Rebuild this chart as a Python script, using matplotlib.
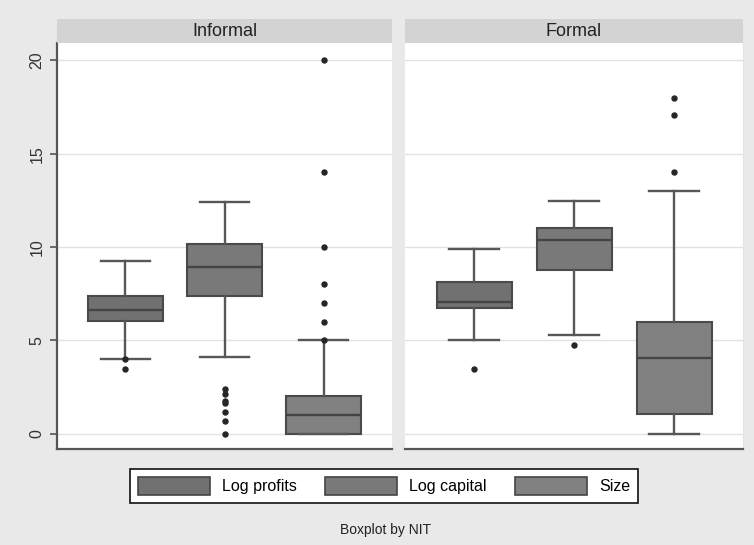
import matplotlib
matplotlib.use("Agg")
import matplotlib.pyplot as plt
from matplotlib.patches import Patch

plt.rcParams['font.family'] = ['Liberation Sans', 'DejaVu Sans']

panels = ["Informal", "Formal"]
series = ["Log profits", "Log capital", "Size"]
fills = ["#717171", "#797979", "#818181"]

# Box summaries per panel: lower whisker, Q1, median, Q3, upper whisker
informal_whislo = [4.0, 4.12, 0.0]
informal_q1 = [6.05, 7.37, 0.0]
informal_med = [6.63, 8.94, 1.0]
informal_q3 = [7.37, 10.18, 2.0]
informal_whishi = [9.24, 12.41, 5.0]
informal_fliers = [
    [4.0, 3.45],
    [2.38, 2.13, 1.77, 1.66, 1.18, 0.7, 0.0],
    [20.0, 14.0, 10.0, 8.0, 7.0, 6.0, 5.0],
]

formal_whislo = [5.03, 5.27, 0.0]
formal_q1 = [6.75, 8.77, 1.07]
formal_med = [7.04, 10.39, 4.04]
formal_q3 = [8.11, 11.03, 6.0]
formal_whishi = [9.9, 12.45, 13.0]
formal_fliers = [
    [3.45],
    [4.75],
    [18.0, 17.07, 14.03],
]

yticks = [0, 5, 10, 15, 20]


def make_stats(whislo, q1, med, q3, whishi, fliers):
    return [
        dict(whislo=a, q1=b, med=c, q3=d, whishi=e, fliers=f, label=s)
        for a, b, c, d, e, f, s in zip(whislo, q1, med, q3, whishi, fliers, series)
    ]


stats = [
    make_stats(informal_whislo, informal_q1, informal_med, informal_q3,
               informal_whishi, informal_fliers),
    make_stats(formal_whislo, formal_q1, formal_med, formal_q3,
               formal_whishi, formal_fliers),
]

W, H = 754, 545
fig = plt.figure(figsize=(W / 100, H / 100), dpi=100)
fig.patch.set_facecolor("#e9e9e9")

panel_px = [(57, 392), (405, 743)]
top_px, bot_px, strip_top_px = 43, 449, 19

edge = "#4a4a4a"
for i, (name, (x0, x1)) in enumerate(zip(panels, panel_px)):
    ax = fig.add_axes([x0 / W, 1 - bot_px / H, (x1 - x0) / W, (bot_px - top_px) / H])
    ax.set_facecolor("white")
    ax.set_ylim(-0.82, 20.93)
    ax.set_xlim(0.31, 3.69)
    for y in yticks:
        ax.axhline(y, color="#e2e2e2", lw=1.0, zorder=0)

    bp = ax.bxp(stats[i], positions=[1, 2, 3], widths=0.75, capwidths=0.5,
                patch_artist=True, showfliers=True,
                boxprops=dict(edgecolor=edge, linewidth=1.5),
                medianprops=dict(color="#444444", linewidth=1.7),
                whiskerprops=dict(color="#575757", linewidth=1.7),
                capprops=dict(color="#575757", linewidth=1.7),
                flierprops=dict(marker="o", markersize=3.6, markerfacecolor="#262626",
                                markeredgecolor="#262626"))
    for patch, c in zip(bp["boxes"], fills):
        patch.set_facecolor(c)

    ax.set_xticks([])
    for s in ["top", "right"]:
        ax.spines[s].set_visible(False)
    ax.spines["bottom"].set_color("#555555")
    ax.spines["bottom"].set_linewidth(1.6)
    if i == 0:
        ax.spines["left"].set_color("#555555")
        ax.spines["left"].set_linewidth(1.6)
        ax.set_yticks(yticks)
        ax.set_yticklabels([str(t) for t in yticks], rotation=90, va="center",
                           fontsize=11.5, color="#333333")
        ax.tick_params(axis="y", length=5, width=1.2, color="#555555", pad=4)
    else:
        ax.spines["left"].set_visible(False)
        ax.spines["right"].set_visible(True)
        ax.spines["right"].set_color("#e4e4e4")
        ax.set_yticks([])

    sax = fig.add_axes([x0 / W, 1 - top_px / H, (x1 - x0) / W, (top_px - strip_top_px) / H])
    sax.set_facecolor("#d3d3d3")
    sax.set_xticks([])
    sax.set_yticks([])
    for s in sax.spines.values():
        s.set_visible(False)
    sax.text(0.5, 0.5, name, ha="center", va="center", fontsize=13,
             color="#222222", transform=sax.transAxes)

handles = [Patch(facecolor=c, edgecolor="#444444", linewidth=1.2, label=s)
           for c, s in zip(fills, series)]
leg = fig.legend(handles=handles, loc="center", bbox_to_anchor=(384 / W, 1 - 486 / H),
                 ncol=3, fontsize=11.5, frameon=True, fancybox=False,
                 handlelength=4.5, handleheight=1.4, handletextpad=0.75,
                 columnspacing=1.8, borderpad=0.5)
leg.get_frame().set_edgecolor("#222222")
leg.get_frame().set_linewidth(1.3)
leg.get_frame().set_facecolor("white")
leg.get_frame().set_alpha(1)

fig.text(386 / W, 1 - 530 / H, "Boxplot by NIT", ha="center", va="center",
         fontsize=10, color="#222222")

fig.savefig("out.png", dpi=100, facecolor=fig.get_facecolor())
